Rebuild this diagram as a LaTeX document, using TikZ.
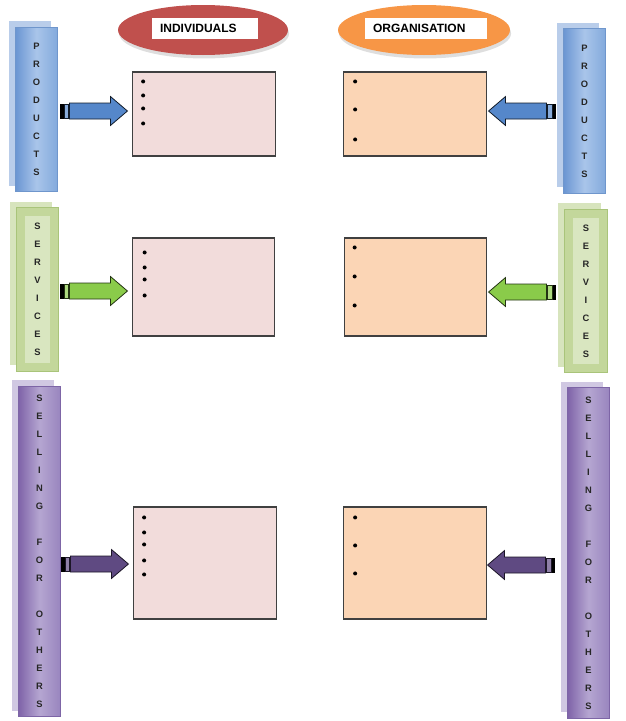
\documentclass[tikz,border=0pt]{standalone}
\usepackage{fontspec}
\setmainfont{Liberation Sans}
\usetikzlibrary{shadows, shapes.geometric}

\definecolor{proddark}{HTML}{6A95D2}
\definecolor{prodlight}{HTML}{A9C5EA}
\definecolor{prodside}{HTML}{82A9DC}
\definecolor{prodshade}{HTML}{B9CDEA}
\definecolor{prodline}{HTML}{6F96CC}
\definecolor{servfront}{HTML}{C3D79B}
\definecolor{servinner}{HTML}{D9E6C0}
\definecolor{servshade}{HTML}{D7E4BD}
\definecolor{servline}{HTML}{A9C47A}
\definecolor{selldark}{HTML}{7E62A8}
\definecolor{selllight}{HTML}{B5A6D1}
\definecolor{sellside}{HTML}{9884BE}
\definecolor{sellshade}{HTML}{D0C8E2}
\definecolor{sellline}{HTML}{7D65A6}
\definecolor{arrowblue}{HTML}{5587CA}
\definecolor{arrowgreen}{HTML}{8ACB4A}
\definecolor{arrowpurple}{HTML}{5F4A82}
\definecolor{indred}{HTML}{C0504D}
\definecolor{orgorange}{HTML}{F79646}
\definecolor{indbox}{HTML}{F2DCDB}
\definecolor{orgbox}{HTML}{FBD5B5}

\tikzset{
	bar/.style = {line width=0.6pt, minimum width=32pt, inner sep=0pt, align=center, text=black!85, font=\fontsize{7}{13.5}\selectfont\bfseries},
	prodbar/.style = {bar, draw=prodline, left color=proddark, right color=prodside, middle color=prodlight, general shadow={fill=prodshade, shadow xshift=-4.8pt, shadow yshift=4.5pt}},
	servbar/.style = {bar, draw=servline, fill=servfront, general shadow={fill=servshade, shadow xshift=-4.8pt, shadow yshift=4.5pt}},
	servinside/.style = {bar, fill=servinner, minimum width=19pt, minimum height=110pt},
	sellbar/.style = {bar, draw=sellline, left color=selldark, right color=sellside, middle color=selllight, general shadow={fill=sellshade, shadow xshift=-4.8pt, shadow yshift=4.5pt}},
	title/.style = {ellipse, minimum height=37.5pt, inner sep=0pt, general shadow={fill=black!13, shadow xshift=0.8pt, shadow yshift=-2.6pt}},
	titlebox/.style = {fill=white, minimum height=15.75pt, text width=67.5pt, inner xsep=6pt, inner ysep=0pt, align=left, font=\fontsize{9}{10}\selectfont\bfseries},
	listbox/.style = {draw=black!75, line width=0.8pt, minimum width=107pt, inner sep=0pt},
	prodarrow/.style = {fill=arrowblue, draw=black!80!arrowblue, line width=0.6pt},
	servarrow/.style = {fill=arrowgreen, draw=black!75!arrowgreen, line width=0.6pt},
	sellarrow/.style = {fill=arrowpurple, draw=black!70!arrowpurple, line width=0.6pt},
	pics/blockarrow/.style = {code={
		\filldraw [black] (0,-7) rectangle (2.5,7);
		\filldraw [fill opacity=0.7] (3.5,-7) rectangle (8,7);
		\filldraw (9,-8) -- (50,-8) -- (50,-14.5) -- (67,0) -- (50,14.5) -- (50,8) -- (9,8) -- cycle;
	}},
}

\begin{document}
\begin{tikzpicture}[x=0.75pt, y=-0.75pt]
	\useasboundingbox (0,0) rectangle (625,721);

	% titles
	\node [title, fill=indred, minimum width=127.5pt] (indtitle) at (203,30) {};
	\node [titlebox] (indlabel) at (205,28.5) {INDIVIDUALS};
	\node [title, fill=orgorange, minimum width=129pt] (orgtitle) at (424,30) {};
	\node [titlebox, text width=79.5pt] (orglabel) at (426,28.5) {ORGANISATION};

	% side bars
	\node [prodbar, minimum height=123.5pt] (prodL) at (36.5,109.5) {P\\R\\O\\D\\U\\C\\T\\S};
	\node [prodbar, minimum height=123.5pt] (prodR) at (584.5,111) {P\\R\\O\\D\\U\\C\\T\\S};
	\node [servbar, minimum height=122.5pt] (servL) at (37.5,289.5) {};
	\node [servinside] (servLtext) at (servL) {S\\E\\R\\V\\I\\C\\E\\S};
	\node [servbar, minimum height=122.5pt] (servR) at (586,291) {};
	\node [servinside] (servRtext) at (servR) {S\\E\\R\\V\\I\\C\\E\\S};
	\node [sellbar, minimum height=248pt] (sellL) at (39.5,551.5) {S\\E\\L\\L\\I\\N\\G\\~\\F\\O\\R\\~\\O\\T\\H\\E\\R\\S};
	\node [sellbar, minimum height=248pt] (sellR) at (588.5,553) {S\\E\\L\\L\\I\\N\\G\\~\\F\\O\\R\\~\\O\\T\\H\\E\\R\\S};

	% boxes
	\node [listbox, fill=indbox, minimum height=63pt] (ind1) at (204,114) {};
	\node [listbox, fill=indbox, minimum height=73.5pt] (ind2) at (203.5,287) {};
	\node [listbox, fill=indbox, minimum height=84pt] (ind3) at (205,563) {};
	\node [listbox, fill=orgbox, minimum height=63pt] (org1) at (415,114) {};
	\node [listbox, fill=orgbox, minimum height=73.5pt] (org2) at (415.5,287) {};
	\node [listbox, fill=orgbox, minimum height=84pt] (org3) at (415,563) {};

	% bullets
	\foreach \y in {10,24,37,52} \fill ([shift={(11,\y)}]ind1.north west) circle (1.5pt);
	\foreach \y in {15,30,42,58} \fill ([shift={(13,\y)}]ind2.north west) circle (1.5pt);
	\foreach \y in {11,26,38,54,68} \fill ([shift={(11,\y)}]ind3.north west) circle (1.5pt);
	\foreach \y in {10,38,68} \fill ([shift={(12,\y)}]org1.north west) circle (1.5pt);
	\foreach \y in {10,39,68} \fill ([shift={(11,\y)}]org2.north west) circle (1.5pt);
	\foreach \y in {11,39,67} \fill ([shift={(12,\y)}]org3.north west) circle (1.5pt);

	% arrows
	\pic [prodarrow] at ([shift={(2.2,1.5)}]prodL.east) {blockarrow};
	\pic [servarrow] at ([shift={(1.2,1.5)}]servL.east) {blockarrow};
	\pic [sellarrow] at ([shift={(0.2,12.5)}]sellL.east) {blockarrow};
	\pic [prodarrow, xscale=-1] at ([shift={(-7.2,0)}]prodR.west) {blockarrow};
	\pic [servarrow, xscale=-1] at ([shift={(-8.7,1)}]servR.west) {blockarrow};
	\pic [sellarrow, xscale=-1] at ([shift={(-12.2,12)}]sellR.west) {blockarrow};
\end{tikzpicture}
\end{document}
